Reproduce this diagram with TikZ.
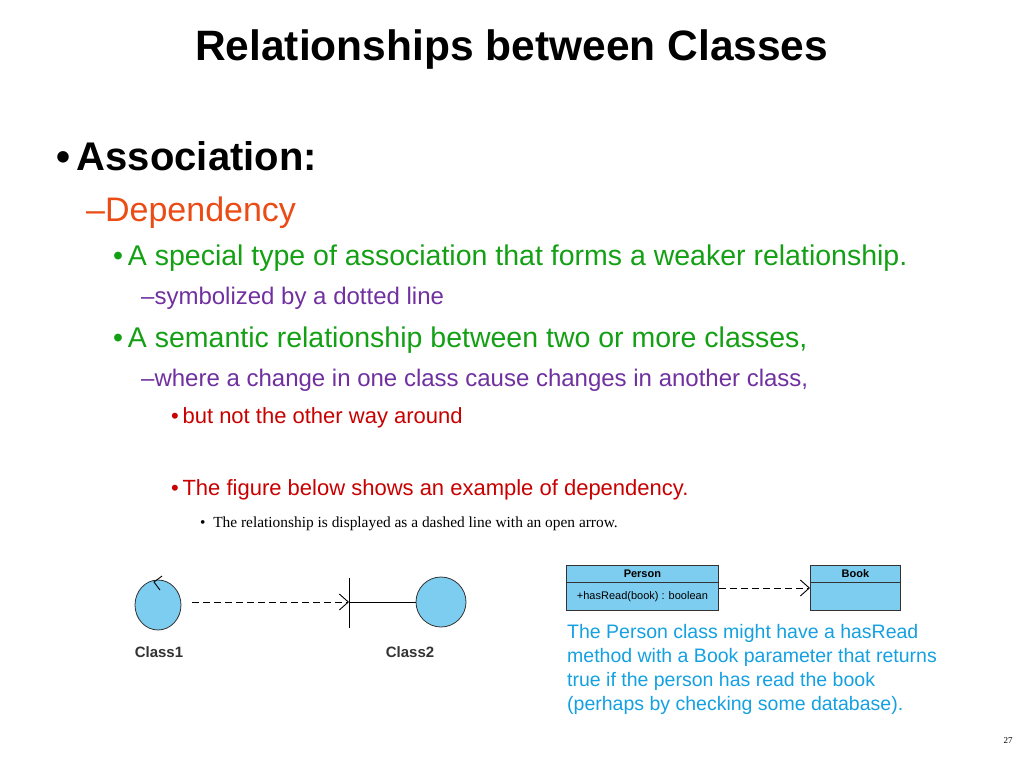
\documentclass[tikz,border=0pt]{standalone}
\usepackage{fontspec}
\setmainfont{Liberation Sans}
\newfontfamily\serf{Liberation Serif}
\usetikzlibrary{arrows.meta,shapes.geometric}
\definecolor{umlfill}{RGB}{125,205,240}
\definecolor{gr}{RGB}{20,160,20}
\definecolor{pu}{RGB}{112,48,160}
\definecolor{rd}{RGB}{200,0,0}
\definecolor{orr}{RGB}{235,75,20}
\definecolor{bl}{RGB}{20,160,225}
\begin{document}
\begin{tikzpicture}[x=1pt,y=-1pt,
  txt/.style={anchor=base west,inner sep=0pt},
  uml/.style={draw=black!80,fill=umlfill,line width=0.8pt},
  dep/.style={dash pattern=on 7pt off 4pt,line width=0.9pt,-{Straight Barb[length=9pt,width=16pt]}}]
\useasboundingbox (0,0) rectangle (1024,768);
\node[txt,font=\bfseries\fontsize{42.5}{44}\selectfont] (title) at (195,60) {Relationships between Classes};
\node[txt,font=\bfseries\fontsize{40}{44}\selectfont] (a) at (56,170) {\textbullet\,Association:};
\node[txt,font=\fontsize{34}{38}\selectfont,text=orr] (b) at (86,221) {–Dependency};
\node[txt,font=\fontsize{28.5}{32}\selectfont,text=gr] (c) at (113,265) {\textbullet\,A special type of association that forms a weaker relationship.};
\node[txt,font=\fontsize{24}{28}\selectfont,text=pu] (d) at (141,304) {–symbolized by a dotted line};
\node[txt,font=\fontsize{28.5}{32}\selectfont,text=gr] (e) at (113,347) {\textbullet\,A semantic relationship between two or more classes,};
\node[txt,font=\fontsize{24}{28}\selectfont,text=pu] (f) at (141,386) {–where a change in one class cause changes in another class,};
\node[txt,font=\fontsize{22}{26}\selectfont,text=rd] (g) at (171,423) {\textbullet\,but not the other way around};
\node[txt,font=\fontsize{22}{26}\selectfont,text=rd] (h) at (171,495) {\textbullet\,The figure below shows an example of dependency.};
\node[txt,font=\serf\fontsize{15.4}{17}\selectfont] (i) at (200,527) {\textbullet\enspace The relationship is displayed as a dashed line with an open arrow.};
% left diagram
\node[uml,ellipse,minimum width=46pt,minimum height=50pt,inner sep=0pt] (c1) at (158,605) {};
\coordinate (c1r) at (192,602);
\draw[line width=0.9pt] (162,576) -- (154,582) -- (160,590);
\node[uml,circle,minimum size=50pt,inner sep=0pt] (c2) at (441,602) {};
\coordinate (bt) at (349,578);
\coordinate (bb) at (349,628);
\coordinate (bm) at (349,602);
\draw[line width=0.9pt] (bt) -- (bb);
\draw[line width=0.9pt] (bm) -- (c2.west);
\draw[dep] (c1r) -- (bm);
\node[font=\bfseries\fontsize{15}{18}\selectfont,text=black!80] (l1) at (159,652) {Class1};
\node[font=\bfseries\fontsize{15}{18}\selectfont,text=black!80] (l2) at (410,652) {Class2};
% right diagram
\node[uml,minimum width=152pt,minimum height=17pt,inner sep=0pt,anchor=north west,font=\bfseries\fontsize{11}{12}\selectfont] (ph) at (566,565) {Person};
\node[uml,minimum width=152pt,minimum height=28pt,inner sep=0pt,anchor=north west,font=\fontsize{11}{12}\selectfont] (pb) at (566,582) {+hasRead(book) : boolean};
\node[uml,minimum width=90pt,minimum height=17pt,inner sep=0pt,anchor=north west,font=\bfseries\fontsize{11}{12}\selectfont] (bh) at (810,565) {Book};
\node[uml,minimum width=90pt,minimum height=28pt,inner sep=0pt,anchor=north west] (bk) at (810,582) {};
\draw[dep] (pb.east |- 0,588) -- (bk.west |- 0,588);
\node[anchor=north west,inner sep=0pt,align=left,text=bl,font=\fontsize{19.5}{24}\selectfont] (desc) at (567,624) {The Person class might have a hasRead\\method with a Book parameter that returns\\true if the person has read the book\\(perhaps by checking some database).};
\node[font=\serf\fontsize{9}{10}\selectfont] (pg) at (1008,741) {27};
\end{tikzpicture}
\end{document}
